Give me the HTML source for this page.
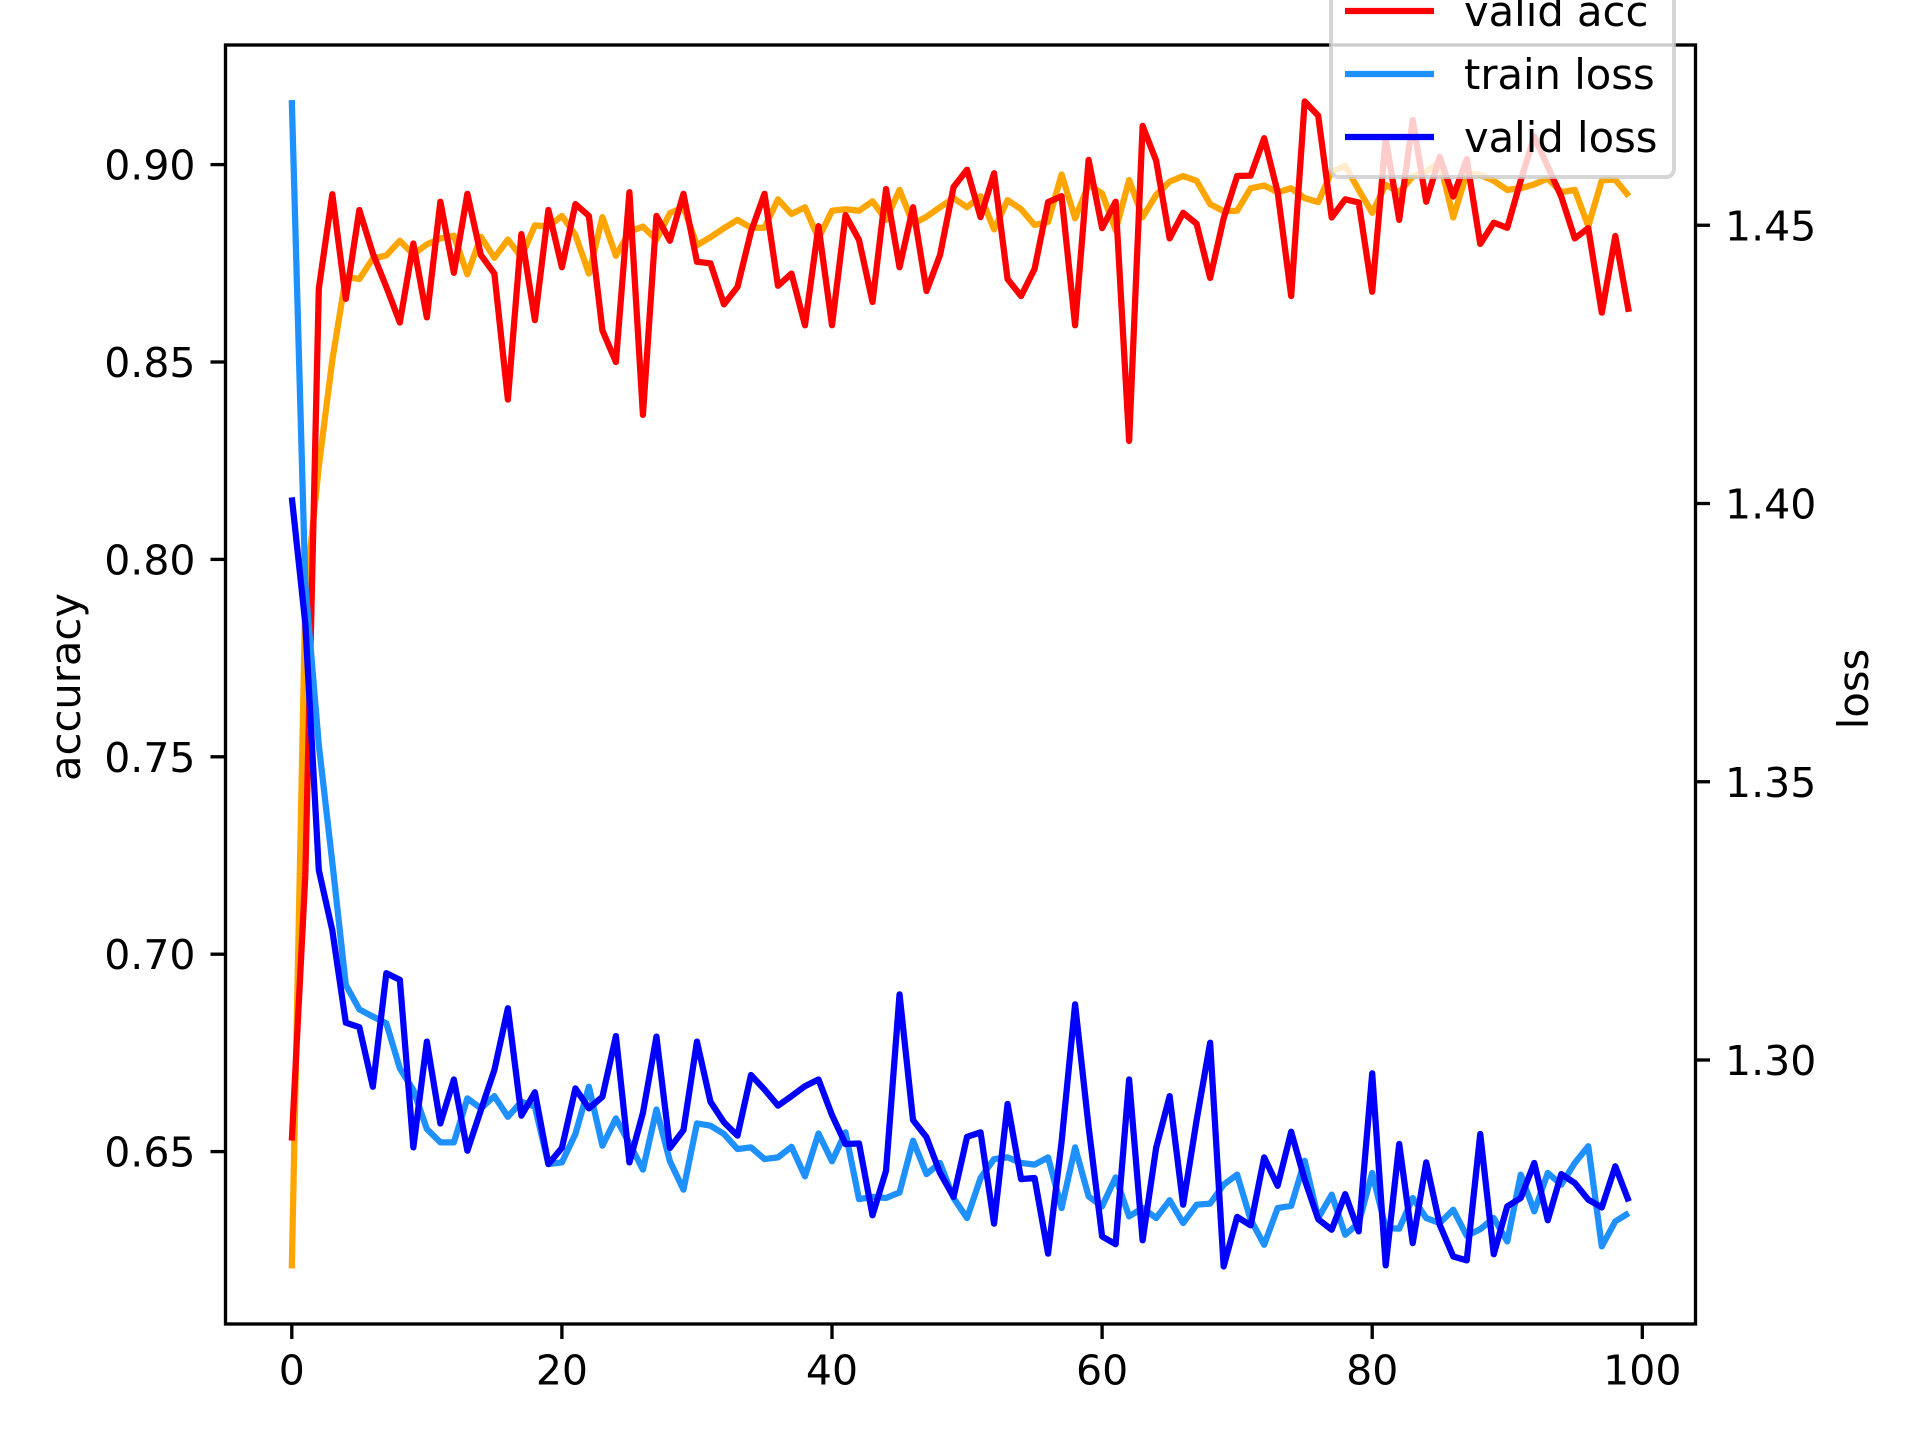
<!DOCTYPE html>
<html>
<head>
<meta charset="utf-8">
<title>Accuracy and loss chart</title>
<style>
html,body{margin:0;padding:0;background:#fff;width:1920px;height:1440px;overflow:hidden}
svg{display:block}
text{font-family:"DejaVu Sans","Liberation Sans",sans-serif;font-size:41.67px;fill:#000}
text.tick-label{font-size:41px}
</style>
</head>
<body>
<svg id="chart" xmlns="http://www.w3.org/2000/svg" width="1920" height="1440" viewBox="0 0 1920 1440">
  <rect x="0" y="0" width="1920" height="1440" fill="#ffffff"/>
  <g id="series"></g>
  <g id="ticks"></g>
  <rect x="225.5" y="45" width="1470" height="1279" fill="none" stroke="#000" stroke-width="3.33"/>
  <text transform="translate(80,687) rotate(-90)" text-anchor="middle">accuracy</text>
  <text transform="translate(1868,689) rotate(-90)" text-anchor="middle">loss</text>
  <g>
    <rect x="1331" y="-60" width="343" height="237" rx="8" ry="8" fill="#ffffff" fill-opacity="0.8" stroke="#cccccc" stroke-opacity="0.8" stroke-width="4"/>
    <line x1="1345" x2="1434" y1="11" y2="11" stroke="#ff0000" stroke-width="6.25"/>
    <text x="1464" y="26">valid acc</text>
    <line x1="1345" x2="1434" y1="74" y2="74" stroke="#1e90ff" stroke-width="6.25"/>
    <text x="1464" y="89">train loss</text>
    <line x1="1345" x2="1434" y1="137" y2="137" stroke="#0000ff" stroke-width="6.25"/>
    <text x="1464" y="152">valid loss</text>
  </g>
</svg>
<script>
const xTickValues = [0, 20, 40, 60, 80, 100];
const accTickValues = [0.90, 0.85, 0.80, 0.75, 0.70, 0.65];
const lossTickValues = [1.45, 1.40, 1.35, 1.30];

const trainAcc = [.6204,.79,.8235,.8505,.8716,.871,.8762,.877,.8807,.8773,.8798,.8813,.882,.8722,.8817,.8764,.881,.8766,.8846,.8843,.887,.8822,.8724,.8867,.8769,.883,.8843,.881,.8877,.8892,.8796,.8816,.8839,.886,.884,.884,.8912,.8875,.8892,.8813,.8883,.8887,.8883,.8907,.886,.8936,.885,.8868,.8892,.8915,.8892,.892,.8836,.891,.8887,.8847,.8855,.8975,.8864,.8949,.8927,.8834,.8961,.8867,.8923,.8957,.8971,.8959,.89,.8882,.8883,.894,.8947,.893,.894,.8915,.8905,.8982,.8997,.8936,.8878,.8949,.893,.897,.8982,.9008,.8866,.8978,.8974,.8959,.8936,.894,.895,.8965,.893,.8936,.8844,.896,.8962,.892];
const validAcc = [.6528,.72,.8686,.8925,.866,.8885,.8775,.869,.86,.88,.8613,.8906,.8726,.8926,.8771,.8724,.8405,.8824,.8606,.8885,.874,.89,.887,.858,.85,.893,.8366,.887,.8807,.8926,.8754,.875,.8646,.869,.883,.8926,.8693,.8724,.8593,.8844,.8593,.8872,.8809,.8652,.8938,.874,.8892,.868,.8771,.8943,.8987,.8867,.8978,.871,.8667,.8736,.8905,.892,.8593,.9012,.8839,.8906,.83,.9098,.901,.8813,.8878,.885,.8713,.8864,.8971,.8972,.9067,.893,.8667,.916,.9124,.8866,.8912,.8904,.8678,.9067,.886,.9113,.8906,.902,.8919,.9014,.8799,.8853,.884,.896,.9071,.8995,.8919,.8813,.8839,.8625,.8819,.8627];
const trainLoss = [1.4725,1.3855,1.3566,1.3355,1.3135,1.3091,1.3078,1.3066,1.2985,1.2946,1.2876,1.2852,1.2852,1.2931,1.2913,1.2935,1.2898,1.2925,1.2916,1.2813,1.2816,1.2867,1.2952,1.2846,1.2895,1.285,1.2803,1.2911,1.2818,1.2767,1.2886,1.2882,1.2867,1.284,1.2843,1.2822,1.2825,1.2844,1.2791,1.2868,1.2818,1.287,1.275,1.2754,1.2752,1.2762,1.2855,1.2795,1.2815,1.2752,1.2716,1.2788,1.2822,1.2825,1.2815,1.2812,1.2825,1.2734,1.2843,1.2755,1.2737,1.2789,1.2719,1.2734,1.2716,1.2748,1.2707,1.274,1.2742,1.2776,1.2794,1.2713,1.2668,1.2734,1.2738,1.2819,1.2716,1.2758,1.2686,1.2707,1.2797,1.2698,1.2697,1.2752,1.2716,1.2707,1.2731,1.2684,1.2696,1.2716,1.2674,1.2794,1.2728,1.2797,1.2776,1.2815,1.2845,1.2665,1.271,1.2725];
const validLoss = [1.4011,1.3784,1.3341,1.3233,1.3067,1.3059,1.2952,1.3156,1.3144,1.2843,1.3033,1.2886,1.2965,1.2837,1.291,1.2982,1.3093,1.29,1.2942,1.2813,1.2842,1.2949,1.2913,1.2934,1.3043,1.2816,1.2905,1.3042,1.2842,1.2874,1.3033,1.2925,1.2888,1.2864,1.2973,1.2947,1.2918,1.2935,1.2953,1.2965,1.2901,1.2849,1.285,1.2721,1.2801,1.3118,1.2892,1.2861,1.2797,1.2754,1.2862,1.287,1.2706,1.2921,1.2786,1.2788,1.2652,1.2853,1.31,1.288,1.2683,1.2669,1.2965,1.2676,1.2842,1.2935,1.274,1.2892,1.3031,1.2629,1.2718,1.2703,1.2825,1.2774,1.2871,1.2785,1.2714,1.2695,1.2759,1.2692,1.2976,1.2631,1.2849,1.2671,1.2816,1.2704,1.2647,1.264,1.2867,1.2651,1.2737,1.2752,1.2815,1.2712,1.2795,1.2779,1.2749,1.2735,1.2809,1.2746];

const NS = 'http://www.w3.org/2000/svg';
function xScale(v) { return 291.8 + v * 13.505; }
function accScale(v) { return 164.6 + (0.90 - v) * 3948; }
function lossScale(v) { return 1060 + (1.30 - v) * 5565; }

const seriesGroup = document.getElementById('series');
const tickGroup = document.getElementById('ticks');

function drawSeries(values, scale, color, name) {
  const line = document.createElementNS(NS, 'polyline');
  
  
  line.setAttribute('points', values.map(function (v, i) {
    return xScale(i).toFixed(2) + ',' + scale(v).toFixed(2);
  }).join(' '));
  line.setAttribute('fill', 'none');
  line.setAttribute('stroke', color);
  line.setAttribute('stroke-width', '6.25');
  line.setAttribute('stroke-linejoin', 'round');
  line.setAttribute('stroke-linecap', 'butt');
  seriesGroup.appendChild(line);
}

drawSeries(trainAcc, accScale, '#ffa500', 'train-acc-line');
drawSeries(validAcc, accScale, '#ff0000', 'valid-acc-line');
drawSeries(trainLoss, lossScale, '#1e90ff', 'train-loss-line');
drawSeries(validLoss, lossScale, '#0000ff', 'valid-loss-line');

function drawTick(x1, y1, x2, y2, name) {
  const tick = document.createElementNS(NS, 'line');
  
  
  tick.setAttribute('x1', x1);
  tick.setAttribute('y1', y1);
  tick.setAttribute('x2', x2);
  tick.setAttribute('y2', y2);
  tick.setAttribute('stroke', '#000');
  tick.setAttribute('stroke-width', '3.33');
  tickGroup.appendChild(tick);
}

function drawLabel(x, y, anchor, content, name) {
  const label = document.createElementNS(NS, 'text');
  
  
  label.setAttribute('class', 'tick-label');
  label.setAttribute('x', x);
  label.setAttribute('y', y);
  label.setAttribute('text-anchor', anchor);
  label.textContent = content;
  tickGroup.appendChild(label);
}

xTickValues.forEach(function (v) {
  const x = xScale(v);
  drawTick(x, 1324, x, 1339, 'x-tick-' + v);
  drawLabel(x, 1384.5, 'middle', String(v), 'x-tick-label-' + v);
});
accTickValues.forEach(function (v) {
  const y = accScale(v);
  drawTick(225.5, y, 210.5, y, 'acc-tick-' + v.toFixed(2));
  drawLabel(195.5, y + 15, 'end', v.toFixed(2), 'acc-tick-label-' + v.toFixed(2));
});
lossTickValues.forEach(function (v) {
  const y = lossScale(v);
  drawTick(1695, y, 1710, y, 'loss-tick-' + v.toFixed(2));
  drawLabel(1725, y + 15, 'start', v.toFixed(2), 'loss-tick-label-' + v.toFixed(2));
});
</script>
</body>
</html>
